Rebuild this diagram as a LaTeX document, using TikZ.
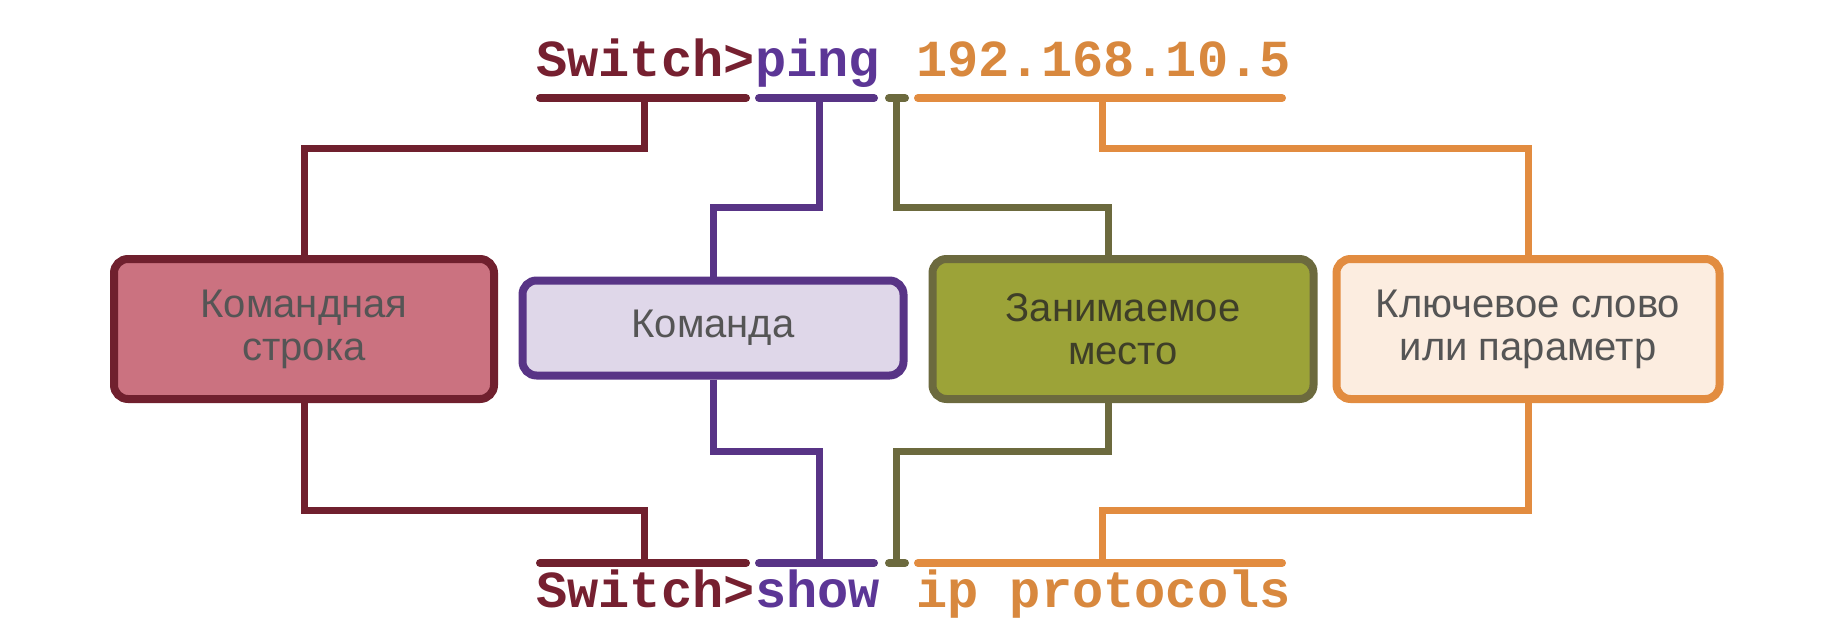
\documentclass[tikz,border=0pt]{standalone}
\usepackage{fontspec}
\setmainfont{Liberation Sans}
\setmonofont{Liberation Mono}
\definecolor{marL}{RGB}{112,32,46}
\definecolor{marF}{RGB}{203,114,128}
\definecolor{purL}{RGB}{88,52,134}
\definecolor{purF}{RGB}{223,215,233}
\definecolor{oliL}{RGB}{108,106,62}
\definecolor{oliF}{RGB}{156,163,56}
\definecolor{oraL}{RGB}{226,140,64}
\definecolor{oraF}{RGB}{252,237,224}
\definecolor{marT}{RGB}{118,32,48}
\definecolor{purT}{RGB}{92,54,150}
\definecolor{oraT}{RGB}{216,136,62}
\definecolor{boxT}{RGB}{85,85,85}
\definecolor{oliT}{RGB}{62,62,40}
\tikzset{
  cmd/.style={inner sep=0pt, anchor=base west, font=\ttfamily\bfseries\fontsize{52}{52}\selectfont},
  bar/.style={line width=8pt, line cap=round},
  conn/.style={line width=7pt},
  box/.style={draw, rounded corners=14pt, line width=8pt, align=center,
    font=\fontsize{40}{43}\selectfont, text=boxT, inner sep=0pt},
}
\begin{document}
\begin{tikzpicture}[x=1pt,y=-1pt]
\useasboundingbox (0,0) rectangle (1822,642);
% top command
\node[cmd, text=marT] (tsw) at (536,76) {Switch>};
\node[cmd, text=purT, anchor=base west] (tping) at (tsw.base east) {ping};
\node[cmd, text=oraT] (tip) at (916,76) {192.168.10.5};
% bottom command
\node[cmd, text=marT] (bsw) at (536,607) {Switch>};
\node[cmd, text=purT, anchor=base west] (bshow) at (bsw.base east) {show};
\node[cmd, text=oraT] (bip) at (916,607) {ip protocols};
% bars
\draw[bar, marL] (540,98) -- (746,98);
\draw[bar, purL] (759,98) -- (874,98);
\draw[bar, oliL] (889,98) -- (905,98);
\draw[bar, oraL] (918,98) -- (1282,98);
\draw[bar, marL] (540,563) -- (746,563);
\draw[bar, purL] (759,563) -- (874,563);
\draw[bar, oliL] (889,563) -- (905,563);
\draw[bar, oraL] (918,563) -- (1282,563);
\coordinate (tb1) at (644,98);
\coordinate (tb2) at (819,98);
\coordinate (tb3) at (896,98);
\coordinate (tb4) at (1102,98);
\coordinate (bb1) at (644,563);
\coordinate (bb2) at (819,563);
\coordinate (bb3) at (896,563);
\coordinate (bb4) at (1102,563);
% boxes
\node[box, marL, fill=marF, minimum width=380pt, minimum height=140pt] (b1) at (304,329) {\color{boxT}Командная\\\color{boxT}строка};
\node[box, purL, fill=purF, minimum width=381pt, minimum height=95pt] (b2) at (713,328) {\color{boxT}Команда};
\node[box, oliL, fill=oliF, minimum width=381pt, minimum height=140pt] (b3) at (1123,329) {\color{oliT}Занимаемое\\\color{oliT}место};
\node[box, oraL, fill=oraF, minimum width=383pt, minimum height=140pt] (b4) at (1528,329) {\color{boxT}Ключевое слово\\\color{boxT}или параметр};
% connectors top
\draw[conn, marL] (tb1) -- (tb1 |- 0,148) -| (b1.north);
\draw[conn, purL] (tb2) -- (tb2 |- 0,207) -| (b2.north);
\draw[conn, oliL] (tb3) -- (tb3 |- 0,207) -| ([xshift=-15pt]b3.north);
\draw[conn, oraL] (tb4) -- (tb4 |- 0,148) -| (b4.north);
% connectors bottom
\draw[conn, marL] (b1.south) -- (b1.south |- 0,510) -| (bb1);
\draw[conn, purL] (b2.south) -- (b2.south |- 0,451) -| (bb2);
\draw[conn, oliL] ([xshift=-15pt]b3.south) -- ([xshift=-15pt]b3.south |- 0,451) -| (bb3);
\draw[conn, oraL] (b4.south) -- (b4.south |- 0,510) -| (bb4);
\end{tikzpicture}
\end{document}
